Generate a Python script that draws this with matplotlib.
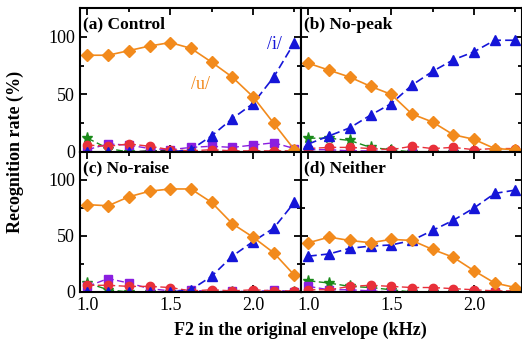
import matplotlib
matplotlib.use("Agg")
import matplotlib.pyplot as plt
from matplotlib.ticker import MultipleLocator

plt.rcParams['font.family'] = ['Liberation Serif', 'DejaVu Serif']

f2 = [1.0, 1.125, 1.25, 1.375, 1.5, 1.625, 1.75, 1.875, 2.0, 2.125, 2.25]

panel_titles = ["(a) Control", "(b) No-peak", "(c) No-raise", "(d) Neither"]

u_vals = [
    [84, 84, 88, 92, 95, 90, 78, 65, 48, 25, 2],
    [77, 71, 65, 57, 50, 33, 26, 15, 11, 3, 2],
    [78, 77, 85, 90, 92, 92, 80, 61, 49, 35, 15],
    [44, 49, 46, 44, 47, 46, 38, 31, 19, 8, 4],
]
i_vals = [
    [0, 0, 0, 0, 0, 2, 14, 29, 42, 65, 95],
    [7, 14, 21, 32, 42, 58, 70, 80, 87, 97, 97],
    [0, 0, 0, 0, 0, 2, 14, 32, 45, 57, 80],
    [32, 34, 39, 41, 42, 46, 55, 64, 75, 88, 91],
]
star_vals = [
    [12, 3, 0, 0, 0, 0, 0, 0, 0, 0, 0],
    [12, 12, 10, 4, 2, 0, 0, 0, 0, 0, 0],
    [8, 2, 0, 0, 0, 0, 0, 0, 0, 0, 0],
    [10, 8, 5, 4, 2, 0, 0, 0, 0, 0, 0],
]
circle_vals = [
    [6, 5, 7, 5, 2, 1, 2, 1, 1, 1, 1],
    [3, 4, 4, 3, 2, 5, 3, 4, 2, 3, 3],
    [6, 6, 5, 5, 4, 1, 2, 1, 2, 1, 1],
    [2, 2, 5, 6, 5, 4, 4, 3, 2, 1, 1],
]
square_vals = [
    [2, 7, 6, 3, 2, 4, 5, 4, 6, 8, 3],
    [2, 2, 1, 1, 0, 0, 0, 0, 0, 0, 0],
    [5, 12, 8, 3, 1, 2, 0, 1, 0, 2, 0],
    [5, 2, 2, 1, 0, 0, 0, 0, 0, 0, 0],
]
black_vals = [
    [0, 0, 0, 1, 1, 0, 0, 0, 0, 0, 0],
    [0, 0, 0, 0, 0, 0, 0, 0, 0, 0, 0],
    [0, 0, 0, 0, 0, 0, 0, 0, 0, 0, 0],
    [0, 0, 0, 0, 0, 0, 0, 0, 0, 0, 0],
]

fig = plt.figure(figsize=(5.22, 3.5), dpi=100)
W, H = 522, 350
boxes = [
    (80, 8, 221, 144),
    (301, 8, 221, 144),
    (80, 152, 221, 140),
    (301, 152, 221, 140),
]
axes = []
for (x0, y0, w, h) in boxes:
    ax = fig.add_axes([x0 / W, 1 - (y0 + h) / H, w / W, h / H])
    axes.append(ax)

dash = (0, (5, 2.5))
for k, ax in enumerate(axes):
    ax.plot(f2, black_vals[k], color='black', ls=dash, lw=1.0, marker='o', ms=4, zorder=2)
    ax.plot(f2, star_vals[k], color='#1a8a1a', ls=dash, lw=1.0, marker='*', ms=8, zorder=3)
    ax.plot(f2, square_vals[k], color='#8a1ee0', ls=dash, lw=1.0, marker='s', ms=6, zorder=3)
    ax.plot(f2, circle_vals[k], color='#e8303a', ls=dash, lw=1.0, marker='o', ms=6, zorder=3)
    ax.plot(f2, i_vals[k], color='#1515d8', ls=dash, lw=1.2, marker='^', ms=7, zorder=4)
    ax.plot(f2, u_vals[k], color='#f28a1c', ls='-', lw=1.2, marker='D', ms=6, zorder=5)

    ax.set_xlim(0.955, 2.29)
    ax.set_ylim(0, 125)
    ax.xaxis.set_major_locator(MultipleLocator(0.5))
    ax.xaxis.set_minor_locator(MultipleLocator(0.25))
    ax.yaxis.set_major_locator(MultipleLocator(50))
    ax.yaxis.set_minor_locator(MultipleLocator(25))
    ax.tick_params(which='both', direction='in', top=True, right=True, width=1.3)
    ax.tick_params(which='major', length=5, labelsize=13)
    ax.tick_params(which='minor', length=3)
    for s in ax.spines.values():
        s.set_linewidth(1.5)
        s.set_zorder(6)
    ax.set_xticks([1.0, 1.5, 2.0])
    ax.set_xticklabels(["1.0", "1.5", "2.0"])
    if k < 2:
        ax.tick_params(labelbottom=False)
    if k % 2 == 1:
        ax.tick_params(labelleft=False)
    ax.text(0.015, 0.885, panel_titles[k], transform=ax.transAxes, fontsize=12.5,
            fontweight='bold', ha='left', va='center')

axes[0].text(1.68, 59, "/u/", color='#f28a1c', fontsize=13, ha='center', va='center')
axes[0].text(2.13, 93, "/i/", color='#1515d8', fontsize=13, ha='center', va='center')

fig.text(0.03, (350 - 152) / 350, "Recognition rate (%)", rotation=90, fontsize=13,
         fontweight='bold', ha='center', va='center')
fig.text(300 / W, 1 - 330 / H, "F2 in the original envelope (kHz)", fontsize=13,
         fontweight='bold', ha='center', va='center')

fig.savefig("out.png", dpi=100)
